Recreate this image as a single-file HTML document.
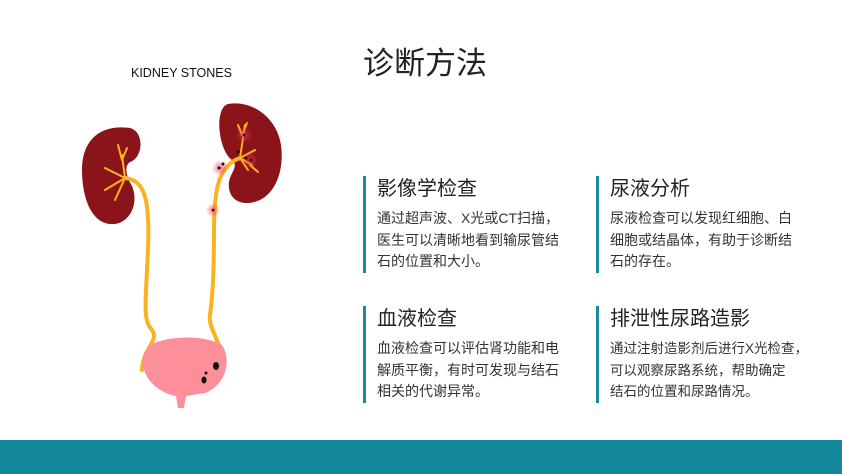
<!DOCTYPE html>
<html><head><meta charset="utf-8"><style>
body{margin:0;width:842px;height:474px;background:#fff;position:relative;overflow:hidden;font-family:"Liberation Sans","Noto Sans CJK SC",sans-serif;color:#222}
.t{position:absolute;left:363px;top:38px;font-size:31px;white-space:nowrap}
.card{position:absolute;border-left:3px solid #1d8a9c;padding-left:11px;width:186px}
.card h3{margin:0;font-size:20px;font-weight:normal;line-height:26px;color:#222}
.card p{margin:6px 0 0;font-size:14px;line-height:21.5px;color:#333}
.bar{position:absolute;left:0;top:440px;width:842px;height:34px;background:#14889a}
.ks{position:absolute;left:131px;top:66px;font-size:12.5px;color:#111}
</style></head><body>
<div class="t">诊断方法</div>
<div class="ks">KIDNEY STONES</div>
<div class="card" style="left:363px;top:176px"><h3>影像学检查</h3><p>通过超声波、X光或CT扫描，医生可以清晰地看到输尿管结石的位置和大小。</p></div>
<div class="card" style="left:596px;top:176px"><h3>尿液分析</h3><p>尿液检查可以发现红细胞、白细胞或结晶体，有助于诊断结石的存在。</p></div>
<div class="card" style="left:363px;top:306px"><h3>血液检查</h3><p>血液检查可以评估肾功能和电解质平衡，有时可发现与结石相关的代谢异常。</p></div>
<div class="card" style="left:596px;top:306px;width:205px"><h3>排泄性尿路造影</h3><p style="white-space:nowrap;font-size:13.5px">通过注射造影剂后进行X光检查，<br>可以观察尿路系统，帮助确定<br>结石的位置和尿路情况。</p></div>
<div class="bar"></div>
<svg style="position:absolute;left:0;top:0" width="842" height="474">
<defs><radialGradient id="g"><stop offset="0" stop-color="#ff3050" stop-opacity=".7"/><stop offset="1" stop-color="#ff3050" stop-opacity="0"/></radialGradient></defs>
<path d="M130,128 C145,132 143,158 130,162 C124,166 126,176 132,186 C140,205 128,226 110,224 C90,222 82,195 82,170 C82,140 100,124 130,128Z" fill="#8b141b"/>
<path d="M228,104 C250,100 276,115 281,145 C285,175 272,202 248,203 C232,204 226,190 230,178 C233,170 238,165 232,160 C218,150 214,108 228,104Z" fill="#8b141b"/>
<g fill="none" stroke="#fbb21f" stroke-linecap="round">
<path d="M125,178 C145,180 150,200 148,250 C146,300 142,320 152,330 C160,340 142,350 142,370" stroke-width="4"/>
<path d="M240,158 C220,165 214,185 214,230 C214,280 212,300 210,315 C208,330 222,340 222,365" stroke-width="4"/>
<path d="M125,178 L105,190 M125,178 L115,200 M125,178 L105,168 M125,178 L122,155 M122,160 L118,145 M122,160 L127,148" stroke-width="2"/>
<path d="M240,158 L255,150 M240,158 L248,170 M240,158 L245,125 M242,135 L238,125 M242,135 L247,123 M240,158 L252,165 M250,165 L258,172" stroke-width="2"/>
</g>
<circle cx="220" cy="168" r="8" fill="url(#g)"/><circle cx="213" cy="210" r="7" fill="url(#g)"/><circle cx="244" cy="135" r="8" fill="url(#g)"/><circle cx="250" cy="160" r="8" fill="url(#g)"/><circle cx="212" cy="372" r="12" fill="url(#g)"/>
<path d="M150,345 C170,335 205,335 222,345 C232,360 226,385 205,393 L186,396 L184,408 L178,408 L176,396 C155,392 140,375 143,355Z" fill="#fd8f9a"/>
<g fill="#111"><ellipse cx="216" cy="366" rx="3" ry="4"/><ellipse cx="204" cy="380" rx="2.5" ry="3.5"/><circle cx="206" cy="373" r="1.5"/><circle cx="219" cy="168" r="1.5"/><circle cx="223" cy="164" r="1.5"/><circle cx="213" cy="210" r="1.3"/><circle cx="244" cy="135" r="1.5"/><circle cx="238" cy="152" r="1.5"/><circle cx="251" cy="160" r="1.5"/><circle cx="246" cy="158" r="1.3"/></g>
</svg>
</body></html>
